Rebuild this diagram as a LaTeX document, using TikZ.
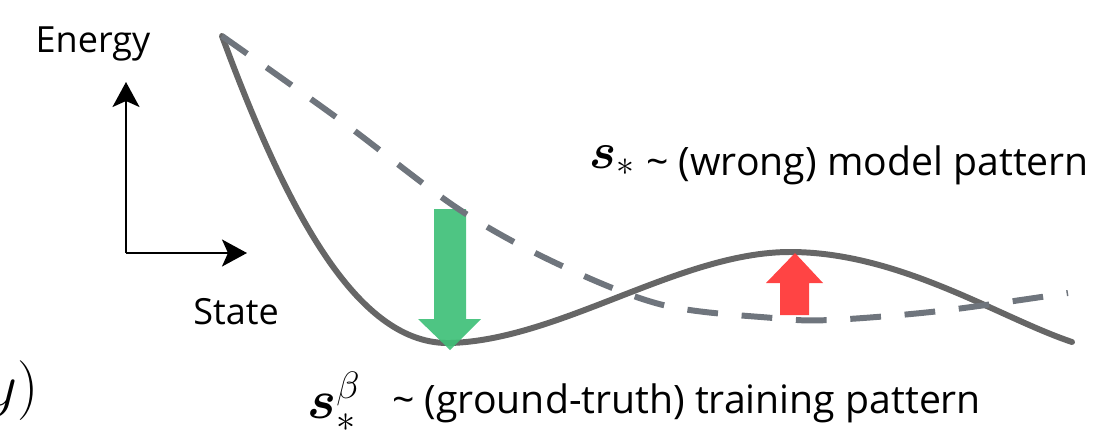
\documentclass[tikz,border=0pt]{standalone}
\usepackage{fix-cm}
\usepackage{amsmath,bm}
\usepackage{fontspec}
\setmainfont{Open Sans}
\usetikzlibrary{arrows.meta}
\definecolor{curvegray}{HTML}{666666}
\definecolor{dashgray}{HTML}{6F757D}
\definecolor{pushgreen}{HTML}{3FC078}
\definecolor{pushred}{HTML}{FF3A3A}
\begin{document}
\begin{tikzpicture}[x=0.02cm,y=-0.02cm, every node/.style={inner sep=0pt,font=\fontsize{20.5}{24}\selectfont}]
\useasboundingbox (0,0) rectangle (1102,443);
% axes
\coordinate (o) at (126,253);
\coordinate (up) at (126,82);
\coordinate (right) at (247,253);
\draw[line width=1.2pt,-{Stealth[length=0.5cm,width=0.54cm,inset=0.12cm]}] (o) -- (up);
\draw[line width=1.2pt,-{Stealth[length=0.5cm,width=0.54cm,inset=0.12cm]}] (o) -- (right);
\node (energy) at (93,44) {Energy};
\node (state) at (236,312) {State};
% true energy
\draw[curvegray,line width=3.4pt,line cap=round] (222,36) .. controls (290,220) and (360,345) .. (450,343)
  .. controls (560,340) and (680,252) .. (790,252) .. controls (900,252) and (1000,318) .. (1072,342);
% push down
\fill[pushgreen,opacity=0.92] (434,209) -- (466,209) -- (466,319) -- (481,319) -- (450,350) -- (418,319) -- (434,319) -- cycle;
% model energy
\draw[dashgray,line width=3.4pt,dash pattern=on 17.5pt off 13.5pt] plot[smooth,tension=0.55] coordinates
  {(222,36) (340,120) (460,210) (560,265) (663,305) (773,318) (830,320) (940,311) (1068,293)};
% push up
\fill[pushred,opacity=0.95] (780,315) -- (809,315) -- (809,283) -- (823,283) -- (795,253) -- (766,283) -- (780,283) -- cycle;
% labels
\node[anchor=base west,font=\fontsize{29}{32}\selectfont] (smodel) at (589,168) {$\bm{s}_*$};
\node[anchor=base west,font=\fontsize{22.3}{26}\selectfont] (model) at (646,175) {\textasciitilde\ (wrong) model pattern};
\node[anchor=base west,font=\fontsize{31}{34}\selectfont] (strain) at (307,418) {$\bm{s}_*^\beta$};
\node[anchor=base west,font=\fontsize{22.3}{26}\selectfont] (train) at (392,413) {\textasciitilde\ (ground-truth) training pattern};
\node[anchor=base east,font=\fontsize{34}{40}\selectfont] (cut) at (39,405) {$y)$};
\end{tikzpicture}
\end{document}
